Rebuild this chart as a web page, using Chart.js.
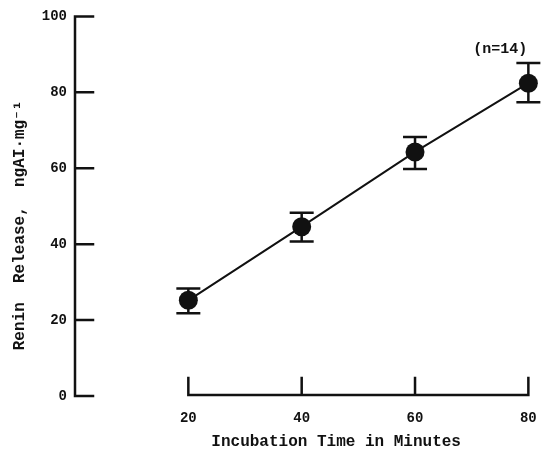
<!DOCTYPE html>
<html lang="en">
<head>
  <meta charset="UTF-8" />
  <title>Renin Release vs Incubation Time</title>
  <script src="https://cdn.jsdelivr.net/npm/chart.js@4.4.0/dist/chart.umd.min.js"></script>
  <style>
    html, body { margin: 0; padding: 0; background: #fff; }
    canvas { display: block; }
  </style>
</head>
<body>
  <canvas id="reninChart" width="551" height="452"></canvas>

  <script>
    // ---- Data --------------------------------------------------------------
    const times      = [20, 40, 60, 80];           // minutes
    const release    = [25.2, 44.6, 64.3, 82.4];   // ngAI·mg-1
    const errUpper   = [28.3, 48.3, 68.2, 87.7];
    const errLower   = [21.8, 40.7, 59.8, 77.4];
    const xTicks     = [20, 40, 60, 80];
    const yTicks     = [0, 20, 40, 60, 80, 100];
    const nLabel     = '(n=14)';

    const INK  = '#111';
    const MONO = "'Liberation Mono', 'DejaVu Sans Mono', monospace";

    /* Axes drawn the old-fashioned way: ticks pointing inward,
       x axis only spanning 20..80 */
    const axesPlugin = {
      id: 'paperAxes',
      afterDatasetsDraw(chart) {
        const { ctx, scales: { x, y } } = chart;
        ctx.save();
        ctx.strokeStyle = INK;
        ctx.lineWidth = 2.5;
        ctx.lineCap = 'square';

        // y axis + ticks
        const yx = x.getPixelForValue(0);
        ctx.beginPath();
        ctx.moveTo(yx, y.getPixelForValue(0));
        ctx.lineTo(yx, y.getPixelForValue(100));
        yTicks.forEach(v => {
          const py = y.getPixelForValue(v);
          ctx.moveTo(yx, py);
          ctx.lineTo(yx + 18, py);
        });
        ctx.stroke();

        // x axis + ticks
        const xy = y.getPixelForValue(0) - 1;
        ctx.beginPath();
        ctx.moveTo(x.getPixelForValue(xTicks[0]), xy);
        ctx.lineTo(x.getPixelForValue(xTicks[xTicks.length - 1]), xy);
        xTicks.forEach(v => {
          const px = x.getPixelForValue(v);
          ctx.moveTo(px, xy);
          ctx.lineTo(px, xy - 17);
        });
        ctx.stroke();
        ctx.restore();
      }
    };

    /* Error bars + the n label */
    const errorPlugin = {
      id: 'errorBars',
      beforeDatasetsDraw(chart) {
        const { ctx, scales: { x, y } } = chart;
        ctx.save();
        ctx.strokeStyle = INK;
        ctx.lineWidth = 2.5;
        times.forEach((t, i) => {
          const px = x.getPixelForValue(t);
          const hi = y.getPixelForValue(errUpper[i]);
          const lo = y.getPixelForValue(errLower[i]);
          ctx.beginPath();
          ctx.moveTo(px, hi); ctx.lineTo(px, lo);
          ctx.moveTo(px - 12, hi); ctx.lineTo(px + 12, hi);
          ctx.moveTo(px - 12, lo); ctx.lineTo(px + 12, lo);
          ctx.stroke();
        });

        // (n=14) above the last point
        const last = times.length - 1;
        ctx.fillStyle = INK;
        ctx.font = 'bold 15px ' + MONO;
        ctx.textAlign = 'center';
        ctx.textBaseline = 'middle';
        ctx.fillText(nLabel,
          x.getPixelForValue(times[last]) - 28,
          y.getPixelForValue(errUpper[last]) - 14);
        ctx.restore();
      }
    };

    new Chart(document.getElementById('reninChart'), {
      type: 'scatter',
      data: {
        datasets: [{
          data: times.map((t, i) => ({ x: t, y: release[i] })),
          showLine: true,
          borderColor: INK,
          borderWidth: 2,
          pointRadius: 9.5,
          pointBackgroundColor: INK,
          pointBorderColor: INK,
          pointBorderWidth: 0
        }]
      },
      options: {
        responsive: false,
        animation: false,
        layout: { padding: { top: 15, right: 0, left: 0, bottom: 0 } },
        plugins: { legend: { display: false }, tooltip: { enabled: false } },
        scales: {
          x: {
            type: 'linear',
            min: 0, max: 82,
            afterFit: s => { s.height = 56; },
            afterBuildTicks: s => { s.ticks = xTicks.map(v => ({ value: v })); },
            grid: { display: false, drawTicks: false },
            border: { display: false },
            ticks: { color: INK, padding: 14, maxRotation: 0,
                     font: { family: MONO, size: 14, weight: 'bold' } },
            title: {
              display: true,
              text: '      Incubation Time in Minutes',
              color: INK,
              padding: { top: 0, bottom: 0 },
              font: { family: MONO, size: 16, weight: 'bold' }
            }
          },
          y: {
            min: 0, max: 100,
            afterFit: s => { s.width = 75; },
            afterBuildTicks: s => { s.ticks = yTicks.map(v => ({ value: v })); },
            grid: { display: false, drawTicks: false },
            border: { display: false },
            ticks: { color: INK, padding: 8,
                     font: { family: MONO, size: 14, weight: 'bold' } },
            title: {
              display: true,
              text: 'Renin  Release,  ngAI·mg⁻¹    ',
              color: INK,
              padding: { top: 10, bottom: 0 },
              font: { family: MONO, size: 16, weight: 'bold' }
            }
          }
        }
      },
      plugins: [axesPlugin, errorPlugin]
    });
  </script>
</body>
</html>
